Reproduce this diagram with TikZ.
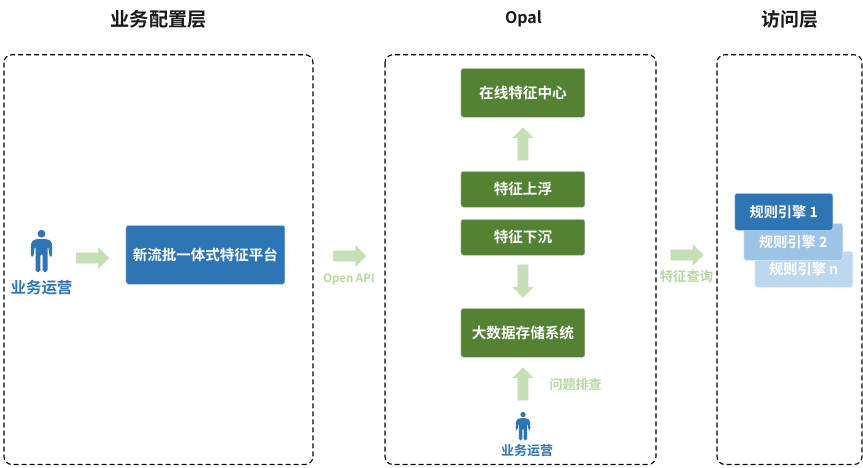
\documentclass[tikz,border=0pt]{standalone}
\usepackage{fontspec}
\setmainfont{Noto Sans CJK SC}[BoldFont={Noto Sans CJK SC Bold}]
\usetikzlibrary{shapes.arrows}
\definecolor{dblue}{HTML}{2E75B6}
\definecolor{mblue}{HTML}{9DC3E6}
\definecolor{lblue}{HTML}{BDD7EE}
\definecolor{dgreen}{HTML}{548235}
\definecolor{lgreen}{HTML}{C5E0B4}
\definecolor{tgreen}{HTML}{B5D8A0}
\newcommand{\fs}[1]{\fontsize{#1}{#1}\selectfont\bfseries}
\tikzset{
  x=1pt,y=-1pt,
  zone/.style={draw=black,line width=1.1pt,dash pattern=on 5pt off 3pt,rounded corners=8pt,fill=none},
  title/.style={text=black!90,inner sep=0pt},
  box/.style={rounded corners=2.5pt,draw=white!70!#1,line width=.5pt,fill=#1,text=white,inner sep=0pt,anchor=north west},
  greenbox/.style={box=dgreen,font=\fs{14.6}},
  bluebox/.style={box=dblue,font=\fs{14.5}},
  engine/.style={box=#1,font=\fs{14.2}},
  blockarrow/.style={single arrow,draw=lgreen!85!black!60!white,line width=.4pt,fill=lgreen,inner xsep=0pt,inner ysep=5pt,minimum height=32.5pt,minimum width=0pt,single arrow head extend=5pt,single arrow tip angle=90},
  note/.style={text=tgreen,inner sep=0pt},
  operator/.style={text=dblue,inner sep=0pt},
}
\newcommand{\person}[3]{%
  \begin{scope}[shift={(#1,#2)},scale=#3,fill=dblue,draw=none]
    \fill (0,-16.8) circle (3.9);
    \fill[rounded corners=1.8pt] (-6,-11.5) -- (6,-11.5) -- (10.4,-8.5) -- (10.8,6) -- (8.3,7) -- (6.6,-4.5) -- (6,-4) -- (6,21.5) -- (1.1,21.5) -- (1,3) -- (-1,3) -- (-1.1,21.5) -- (-6,21.5) -- (-6,-4) -- (-6.6,-4.5) -- (-8.3,7) -- (-10.8,6) -- (-10.4,-8.5) -- cycle;
  \end{scope}}
\begin{document}
\begin{tikzpicture}
\useasboundingbox (0,0) rectangle (863,467);
% zones
\draw[zone] (4,54.7) rectangle (313,464.5);
\draw[zone] (385,54.7) rectangle (656,464.5);
\draw[zone] (717,54.7) rectangle (862,464.5);
% titles
\node[title,font=\fs{19.2}] (t1) at (158.7,19.5) {业务配置层};
\node[title,font=\fs{16}] (t2) at (523.5,18.5) {Opal};
\node[title,font=\fs{18.9}] (t3) at (790,19.5) {访问层};
% left
\person{41.5}{250.5}{1}
\node[operator,font=\fs{15.5}] (op1) at (41.5,288) {业务运营};
\node[bluebox,minimum width=159pt,minimum height=59pt] (plat) at (125.7,225) {新流批一体式特征平台};
% middle
\node[greenbox,minimum width=124pt,minimum height=49pt] (online) at (460.7,68) {在线特征中心};
\node[greenbox,minimum width=124pt,minimum height=36pt] (up) at (460.7,171) {特征上浮};
\node[greenbox,minimum width=124pt,minimum height=36pt] (down) at (460.7,219) {特征下沉};
\node[greenbox,minimum width=124pt,minimum height=49pt] (store) at (460.7,308) {大数据存储系统};
\person{523}{426}{.68}
\node[operator,font=\fs{13}] (op2) at (527,451) {业务运营};
\node[note,font=\fs{13}] (n1) at (575.5,385) {问题排查};
% right
\node[engine=lblue,minimum width=98pt,minimum height=36pt] (e3) at (754.5,251) {规则引擎 n};
\node[engine=mblue,minimum width=99pt,minimum height=37pt] (e2) at (743.5,223) {规则引擎 2};
\node[engine=dblue,minimum width=98pt,minimum height=37pt] (e1) at (734.5,193) {规则引擎 1};
% arrows
\node[blockarrow] (a1) at (90,258) {};
\node[blockarrow] (a2) at (347,256) {};
\node[blockarrow] (a3) at (684.5,255) {};
\node[blockarrow,rotate=90] (a4) at (523,146.5) {};
\node[blockarrow,rotate=-90] (a5) at (523,278.5) {};
\node[blockarrow,rotate=90] (a6) at (523,386.5) {};
\node[note,font=\fs{11.4}] (n2) at (349,279) {Open API};
\node[note,font=\fs{13.3}] (n3) at (686.5,276) {特征查询};
\end{tikzpicture}
\end{document}
